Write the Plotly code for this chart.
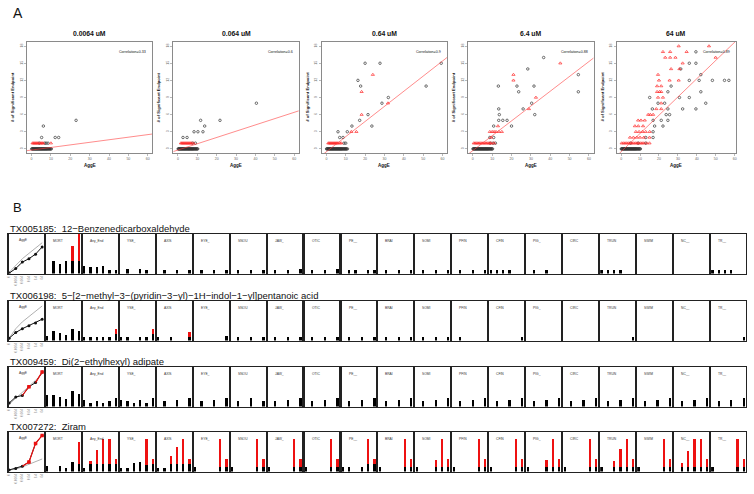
import plotly.graph_objects as go

W, H = 754, 494

# ---------------- panel A data ----------------
conc_titles = ["0.0064 uM", "0.064 uM", "0.64 uM", "6.4 uM", "64 uM"]
corr_text = ["Correlation=0.33", "Correlation=0.6", "Correlation=0.9", "Correlation=0.88", "Correlation=0.89"]
fit_intercept = [-0.2, -0.2, -0.5, -0.3, -0.5]
fit_slope = [0.045, 0.11, 0.265, 0.26, 0.32]
x_hi = [62.4, 62.4, 62.4, 62.4, 60.7]

row0 = [0.1, 0.35, 0.6, 0.85, 1.1, 1.35, 1.6, 1.85, 2.1, 2.35, 2.6, 2.85, 3.1, 3.35, 3.6, 3.85,
        4.1, 4.35, 4.6, 4.85, 5.1, 5.35, 5.6, 5.85, 6.1, 6.35, 6.6, 6.85, 7.1, 7.35, 7.6, 7.85,
        8.1, 8.4, 8.7, 9.0, 9.3, 9.6, 9.9, 10.2]
n0 = len(row0)

p1_blk_x = row0 + [4.0, 6.8, 7.5, 8.5, 5.2, 12.2, 14.0, 6.1, 23.0]
p1_blk_y = [0] * n0 + [1, 1, 1, 1, 2, 2, 2, 4, 5]
p1_red_x = [0.5, 1.0, 1.5, 2.0, 2.5, 3.0, 3.5, 4.5, 5.0, 5.5, 6.0, 10.0]
p1_red_y = [1] * 12

p2_blk_x = row0 + [7.5, 9.0, 2.6, 4.7, 8.3, 10.3, 12.9, 13.8, 11.7, 21.7, 40.5]
p2_blk_y = [0] * n0 + [1, 1, 2, 2, 3, 3, 3, 4, 5, 5, 8]
p2_red_x = [1.5, 2.0, 2.5, 3.0, 3.5, 4.0, 4.5, 5.0, 5.5, 6.0, 6.5, 7.0, 8.0]
p2_red_y = [1] * 13

p3_blk_x = row0 + [10.4, 10.9, 9.1, 10.0, 6.9, 8.6, 6.0, 10.8, 13.2, 23.5, 17.2, 21.5, 28.7, 32.0, 17.7, 51.5, 16.3, 20.0, 27.7, 59.3]
p3_blk_y = [0] * n0 + [0, 0, 1, 1, 2, 2, 3, 3, 4, 4, 5, 6, 8, 9, 11, 11, 12, 15, 15, 15]
p3_red_x = [1.0, 1.5, 2.0, 2.5, 3.0, 3.5, 4.0, 4.5, 5.0, 5.5, 6.0, 7.0, 7.7, 12.9, 15.5, 18.2, 31.8, 18.2, 24.0]
p3_red_y = [1] * 13 + [3, 3, 6, 8, 10, 13]

p4_blk_x = row0 + [9.0, 10.5, 11.7, 8.8, 10.8, 10.8, 20.0, 13.4, 15.5, 17.7, 13.7, 32.0, 13.4, 26.0, 30.4, 23.7, 54.5, 22.8, 31.6, 13.2, 54.5, 28.4, 36.6]
p4_blk_y = [0] * n0 + [1, 1, 1, 2, 2, 4, 4, 5, 5, 5, 6, 6, 7, 7, 8, 10, 10, 11, 11, 11, 13, 14, 16]
p4_red_x = [0.5, 1.2, 1.9, 2.6, 3.3, 4.0, 4.7, 5.4, 6.1, 6.8, 7.5, 8.2, 8.9, 9.6, 11.0, 9.5, 8.8, 10.0, 11.0, 12.0, 13.5, 15.0, 13.0, 29.0, 32.6, 21.0, 21.0, 45.2]
p4_red_y = [1] * 15 + [2, 3, 3, 3, 3, 3, 3, 4, 7, 9, 12, 13, 15]

p5_blk_x = row0 + [5.0, 9.0, 13.0, 16.9, 13.0, 16.9, 17.7, 22.1, 16.9, 21.2, 24.7, 23.8, 25.6, 16.5, 24.7, 32.5, 39.5,
                   19.5, 23.0, 44.7, 15.1, 30.8, 36.0, 24.7, 42.1, 26.4, 36.0, 41.2, 48.2, 54.6, 56.9, 42.1, 31.5, 36.0, 39.5, 39.5]
p5_blk_y = [0] * n0 + [1, 1, 1, 2, 2, 3, 4, 4, 5, 5, 5, 6, 6, 7, 7, 7, 7,
                       8, 8, 8, 9, 9, 9, 10, 10, 11, 12, 12, 12, 12, 12, 13, 14, 15, 15, 17]
p5_red_x = [0.3, 1.2, 2.1, 3.0, 3.9, 4.8, 5.7, 6.6, 7.5, 8.4, 9.3, 10.2, 11.1, 12.0, 13.5, 15.0,
            4.7, 6.5, 8.3, 10.0, 12.0, 15.0, 7.8, 9.5, 11.3, 13.0, 15.1, 7.3, 9.1, 11.6, 9.0, 10.5, 12.5,
            14.3, 15.4, 16.9, 18.6, 21.2, 21.2, 19.5, 22.1, 19.0, 20.3, 21.2, 19.0, 21.2, 20.0, 25.6, 30.4,
            19.5, 26.4, 30.8, 32.5, 23.3, 25.9, 28.7, 49.9, 22.1, 25.9, 34.6, 30.4, 46.4]
p5_red_y = [1] * 16 + [2] * 6 + [3] * 5 + [4] * 3 + [5] * 3 + [6] * 3 + [7, 7, 8, 9, 9, 10, 10, 10, 11, 11, 12, 12, 12,
                                                                     13, 14, 14, 15, 16, 16, 16, 16, 17, 17, 17, 18, 18]

blk_x = [p1_blk_x, p2_blk_x, p3_blk_x, p4_blk_x, p5_blk_x]
blk_y = [p1_blk_y, p2_blk_y, p3_blk_y, p4_blk_y, p5_blk_y]
red_x = [p1_red_x, p2_red_x, p3_red_x, p4_red_x, p5_red_x]
red_y = [p1_red_y, p2_red_y, p3_red_y, p4_red_y, p5_red_y]

# ---------------- panel B data ----------------
chem_titles = ["TX005185:  12\u2212Benzenedicarboxaldehyde",
               "TX006198:  5\u2212[2\u2212methyl\u22123\u2212(pyridin\u22123\u2212yl)\u22121H\u2212indol\u22121\u2212yl]pentanoic acid",
               "TX009459:  Di(2\u2212ethylhexyl) adipate",
               "TX007272:  Ziram"]
endpoints = ["MORT", "Any_End", "YSE_", "AXIS", "EYE_", "SNOU", "JAW_", "OTIC", "PE__", "BRAI",
             "SOMI", "PFIN", "CFIN", "PIG_", "CIRC", "TRUN", "SWIM", "NC__", "TR__"]
conc_ticks = ["0", "0.0064", "0.064", "0.64", "6.4", "64"]

# AggE panel: observed curve, significance flags, grey reference curve
agge_obs = [[0.0, 0.12, 0.29, 0.38, 0.5, 0.69],
            [0.05, 0.2, 0.3, 0.38, 0.45, 0.55],
            [0.08, 0.24, 0.28, 0.51, 0.62, 0.9],
            [0.03, 0.07, 0.13, 0.24, 0.73, 0.94]]
agge_sig = [[0, 0, 0, 0, 0, 0],
            [0, 0, 0, 0, 0, 0],
            [0, 0, 0, 1, 0, 1],
            [0, 0, 0, 1, 1, 1]]
agge_ref = [[0.02, 0.2, 0.38, 0.52, 0.66, 0.8],
            [0.05, 0.3, 0.48, 0.62, 0.76, 0.9],
            [0.05, 0.2, 0.36, 0.52, 0.68, 0.85],
            [0.03, 0.05, 0.11, 0.18, 0.25, 0.32]]

# bar heights: black part and total height of red bar (0 = no red)
tx005185_blk = [[0, 0.37, 0.3, 0.37, 0.37, 0.37], [0.22, 0.2, 0.2, 0.22, 0.1, 0.1], [0, 0.15, 0, 0.15, 0.1, 0],
                [0, 0.12, 0, 0.12, 0, 0.12], [0, 0.1, 0, 0.12, 0, 0.12], [0, 0.1, 0, 0.12, 0, 0.12],
                [0, 0.12, 0, 0.12, 0, 0.15], [0, 0.12, 0, 0.12, 0, 0.15], [0, 0.12, 0.12, 0, 0.12, 0.1],
                [0, 0.12, 0, 0.12, 0, 0.12], [0, 0.12, 0, 0.12, 0, 0.12], [0, 0.12, 0, 0.12, 0, 0.12],
                [0.12, 0.12, 0.12, 0.12, 0, 0], [0, 0.12, 0, 0.12, 0, 0], [0, 0, 0, 0, 0, 0],
                [0.12, 0.12, 0.12, 0.12, 0, 0], [0, 0, 0, 0, 0, 0], [0, 0, 0, 0, 0, 0],
                [0.12, 0.12, 0.12, 0.12, 0, 0]]
tx005185_red = [[0, 0, 0, 0, 0.85, 1.19]] + [[0] * 6] * 18

tx006198_blk = [[0.15, 0.3, 0.22, 0.18, 0.35, 0.3], [0.1, 0.12, 0.12, 0.1, 0.12, 0.2], [0.1, 0.12, 0, 0.12, 0.1, 0.2],
                [0.1, 0, 0.12, 0, 0, 0.12], [0, 0, 0, 0, 0, 0.15], [0, 0.12, 0, 0.12, 0, 0.12],
                [0, 0.12, 0, 0.12, 0, 0.12], [0, 0.12, 0, 0.12, 0, 0.12], [0, 0.12, 0, 0.12, 0, 0.12],
                [0, 0.12, 0, 0.12, 0, 0.12], [0, 0.12, 0, 0.12, 0, 0.12], [0, 0.12, 0, 0, 0, 0],
                [0, 0, 0, 0, 0, 0.12], [0, 0, 0, 0, 0, 0], [0, 0, 0, 0, 0, 0],
                [0, 0, 0, 0, 0, 0.12], [0, 0, 0, 0, 0, 0], [0, 0, 0, 0, 0, 0],
                [0, 0, 0, 0, 0, 0.12]]
tx006198_red = [[0] * 6, [0, 0, 0, 0, 0, 0.35], [0, 0, 0, 0, 0, 0.35], [0, 0, 0, 0, 0, 0.25]] + [[0] * 6] * 15

tx009459_blk = [[0.36, 0.36, 0.29, 0.24, 0.46, 0.38], [0.2, 0.12, 0.18, 0.12, 0.17, 0.25], [0.2, 0.17, 0.12, 0.2, 0.12, 0.25],
                [0, 0.18, 0, 0.2, 0, 0.25], [0, 0.18, 0, 0.2, 0, 0.25], [0, 0.18, 0, 0.25, 0, 0.18],
                [0, 0.18, 0, 0.2, 0, 0.25], [0, 0.18, 0, 0.2, 0, 0.25], [0, 0.18, 0, 0.2, 0, 0.25],
                [0, 0.18, 0, 0.2, 0, 0.25], [0, 0.18, 0, 0.2, 0, 0.25], [0, 0.18, 0, 0.2, 0, 0.25],
                [0, 0.18, 0, 0.2, 0, 0.25], [0, 0.18, 0, 0.2, 0, 0.25], [0, 0.18, 0, 0.2, 0, 0.25],
                [0, 0.18, 0, 0.2, 0, 0.25], [0, 0.18, 0, 0.2, 0, 0.25], [0, 0.18, 0, 0.2, 0, 0.25],
                [0, 0.18, 0, 0.2, 0, 0.25]]
tx009459_red = [[0] * 6] * 19

tx007272_blk = [[0.16, 0, 0.16, 0.11, 0.3, 0.24], [0.11, 0.24, 0.24, 0.24, 0.24, 0.24], [0.11, 0.11, 0.26, 0.3, 0.2, 0.24],
                [0.11, 0.11, 0.24, 0.24, 0.24, 0.24], [0.13, 0, 0, 0, 0.13, 0.13], [0.13, 0, 0, 0, 0.13, 0.13],
                [0.13, 0, 0, 0, 0.13, 0.13], [0.13, 0, 0, 0, 0.13, 0.13], [0.13, 0.13, 0, 0.13, 0.24, 0.24],
                [0.13, 0, 0, 0, 0.13, 0.13], [0.13, 0, 0, 0.13, 0.13, 0.13], [0.13, 0, 0, 0, 0.13, 0.13],
                [0.13, 0, 0, 0, 0.13, 0.13], [0.13, 0, 0, 0.13, 0.13, 0.13], [0.13, 0, 0, 0, 0.13, 0.13],
                [0.13, 0, 0.13, 0.13, 0.13, 0.13], [0.13, 0, 0, 0, 0.13, 0.13], [0, 0.13, 0.13, 0.13, 0.13, 0.13],
                [0.13, 0, 0, 0, 0.13, 0.13]]
tx007272_red = [[0, 0, 0, 0, 0, 0.89], [0, 0.33, 0.65, 1.0, 1.0, 0.39], [0, 0, 0, 0, 1.0, 0.39],
                [0, 0, 0.46, 0.75, 1.0, 0.39], [0, 0, 0, 0, 1.0, 0.39], [0, 0, 0, 0, 1.0, 0.39],
                [0, 0, 0, 0, 1.0, 0.39], [0, 0, 0, 0, 1.0, 0.39], [0, 0, 0, 0, 1.0, 0.39],
                [0, 0, 0, 0, 1.0, 0.39], [0, 0, 0, 0.36, 1.0, 0.39], [0, 0, 0, 0, 1.0, 0.39],
                [0, 0, 0, 0, 1.0, 0.39], [0, 0, 0, 0.36, 1.0, 0.39], [0, 0, 0, 0, 1.0, 0.39],
                [0, 0, 0.33, 0.68, 1.0, 0.39], [0, 0, 0, 0, 1.0, 0.39], [0, 0.26, 0.62, 1.0, 1.0, 0.39],
                [0, 0, 0, 0, 1.0, 0.39]]

bars_blk = [tx005185_blk, tx006198_blk, tx009459_blk, tx007272_blk]
bars_red = [tx005185_red, tx006198_red, tx009459_red, tx007272_red]

# ---------------- figure ----------------
FONT = "Liberation Sans, Arial, sans-serif"
fig = go.Figure()
axes = {}
ann = []
count = [0]


def new_axes(px0, px1, py0, py1, xo, yo):
    count[0] += 1
    s = "" if count[0] == 1 else str(count[0])
    axes["xaxis" + s] = dict(domain=[px0 / W, px1 / W], anchor="y" + s, **xo)
    axes["yaxis" + s] = dict(domain=[1 - py1 / H, 1 - py0 / H], anchor="x" + s, **yo)
    return "x" + s, "y" + s


def label(px, py, text, size, xanchor="center", color="#111", angle=0):
    ann.append(dict(x=px / W, y=1 - py / H, xref="paper", yref="paper", text=text, textangle=angle,
                    xanchor=xanchor, yanchor="middle", showarrow=False, borderpad=0,
                    font=dict(size=size, family=FONT, color=color)))


a_left = [25, 172, 321, 468, 617]
a_right = [151, 298, 447, 594, 737]
a_top, a_bot = 42, 153

for i in range(5):
    xo = dict(range=[-2.4, x_hi[i]], showline=True, mirror=True, linecolor="#8a8a8a", linewidth=1,
              ticks="outside", ticklen=2, tickwidth=0.6, tickcolor="#8a8a8a", tickvals=[0, 10, 20, 30, 40, 50, 60],
              tickfont=dict(size=3.5, color="#666", family=FONT), showgrid=False, zeroline=False)
    yo = dict(range=[-0.72, 18.72], showline=True, mirror=True, linecolor="#8a8a8a", linewidth=1,
              ticks="outside", ticklen=2, tickwidth=0.6, tickcolor="#8a8a8a", tickvals=[0, 3, 6, 9, 12, 15, 18],
              tickangle=-90, tickfont=dict(size=3.5, color="#666", family=FONT), showgrid=False, zeroline=False)
    xa, ya = new_axes(a_left[i], a_right[i], a_top, a_bot, xo, yo)
    fig.add_trace(go.Scatter(x=blk_x[i], y=blk_y[i], mode="markers", xaxis=xa, yaxis=ya,
                             marker=dict(symbol="circle-open", size=2.5, color="#333", line=dict(width=0.7))))
    fig.add_trace(go.Scatter(x=red_x[i], y=red_y[i], mode="markers", xaxis=xa, yaxis=ya,
                             marker=dict(symbol="triangle-up-open", size=2.8, color="#ff2a2a", line=dict(width=0.7))))
    lx = [-2.4, x_hi[i]]
    ly = [fit_intercept[i] + fit_slope[i] * v for v in lx]
    fig.add_trace(go.Scatter(x=lx, y=ly, mode="lines", xaxis=xa, yaxis=ya,
                             line=dict(color="rgba(255,60,60,0.85)", width=0.7)))
    cx = (a_left[i] + a_right[i]) / 2
    label(cx, 33, "<b>" + conc_titles[i] + "</b>", 6.8)
    label(a_right[i] - 5, 52, corr_text[i], 3.6, xanchor="right")
    label(cx, 166, "<b>AggE</b>", 4.5)
    label(a_left[i] - 15, 97, "<b># of Significant Endpoint</b>", 4.2, angle=-90)

# panel B
row_top = [234, 301, 367, 432]
box_h = 39.5
pitch = 37.1
box_w = 35
xs = [1, 2, 3, 4, 5, 6]

for r in range(4):
    top = row_top[r]
    label(7, top - 6, chem_titles[r], 9.5, xanchor="left")
    # AggE line panel
    left = 7
    xo = dict(range=[0.98, 6.25], showline=True, mirror=True, linecolor="#222", linewidth=1.5,
              ticks="", tickvals=xs, ticktext=conc_ticks, tickangle=-90,
              tickfont=dict(size=3, color="#777", family=FONT), showgrid=False, zeroline=False)
    yo = dict(range=[-0.01, 1.03], showline=True, mirror=True, linecolor="#222", linewidth=1.5,
              showticklabels=False, ticks="", showgrid=False, zeroline=False)
    xa, ya = new_axes(left, left + box_w, top, top + box_h, xo, yo)
    fig.add_trace(go.Scatter(x=xs, y=agge_ref[r], mode="lines", xaxis=xa, yaxis=ya,
                             line=dict(color="#b0b0b0", width=1)))
    fig.add_trace(go.Scatter(x=xs, y=agge_obs[r], mode="lines+markers", xaxis=xa, yaxis=ya,
                             line=dict(color="#111", width=1), marker=dict(size=3, color="#111")))
    sx, sy, mx, my = [], [], [], []
    for k in range(1, 6):
        if agge_sig[r][k]:
            sx += [xs[k - 1], xs[k], None]
            sy += [agge_obs[r][k - 1], agge_obs[r][k], None]
            mx.append(xs[k])
            my.append(agge_obs[r][k])
    fig.add_trace(go.Scatter(x=sx, y=sy, mode="lines", xaxis=xa, yaxis=ya,
                             line=dict(color="#ee1111", width=1.2)))
    fig.add_trace(go.Scatter(x=mx, y=my, mode="markers", xaxis=xa, yaxis=ya,
                             marker=dict(symbol="square", size=3.5, color="#ee1111")))
    label(left + 9, top + 6, "AggE", 3.3, xanchor="left", color="#333")
    # endpoint bar panels
    for e in range(19):
        left = 7 + pitch * (e + 1)
        xo = dict(range=[0.78, 6.32], showline=True, mirror=True, linecolor="#222", linewidth=1.5,
                  showticklabels=False, ticks="", showgrid=False, zeroline=False)
        yo = dict(range=[0, 1.2], showline=True, mirror=True, linecolor="#222", linewidth=1.5,
                  showticklabels=False, ticks="", showgrid=False, zeroline=False)
        xa, ya = new_axes(left, left + box_w, top, top + box_h, xo, yo)
        blk = bars_blk[r][e]
        red = bars_red[r][e]
        rx = [xs[k] for k in range(6) if red[k] > 0]
        rb = [blk[k] for k in range(6) if red[k] > 0]
        rh = [red[k] - blk[k] for k in range(6) if red[k] > 0]
        fig.add_trace(go.Bar(x=rx, y=rh, base=rb, width=0.36, xaxis=xa, yaxis=ya,
                             marker=dict(color="#ee1111", line=dict(width=0))))
        fig.add_trace(go.Bar(x=xs, y=blk, width=0.36, xaxis=xa, yaxis=ya,
                             marker=dict(color="#000", line=dict(width=0))))
        label(left + 6, top + 7, endpoints[e], 3.3, xanchor="left", color="#333")

label(10, 13, "A", 14, xanchor="left")
label(10, 207, "B", 13, xanchor="left")

fig.update_layout(width=W, height=H, margin=dict(l=0, r=0, t=0, b=0), showlegend=False,
                  plot_bgcolor="white", paper_bgcolor="white", barmode="overlay", bargap=0,
                  hovermode=False, annotations=ann, font=dict(family=FONT), **axes)
fig.write_html("out.html", config={"displayModeBar": False, "staticPlot": True},
               post_script="document.body.style.margin='0';document.body.style.overflow='hidden';")
